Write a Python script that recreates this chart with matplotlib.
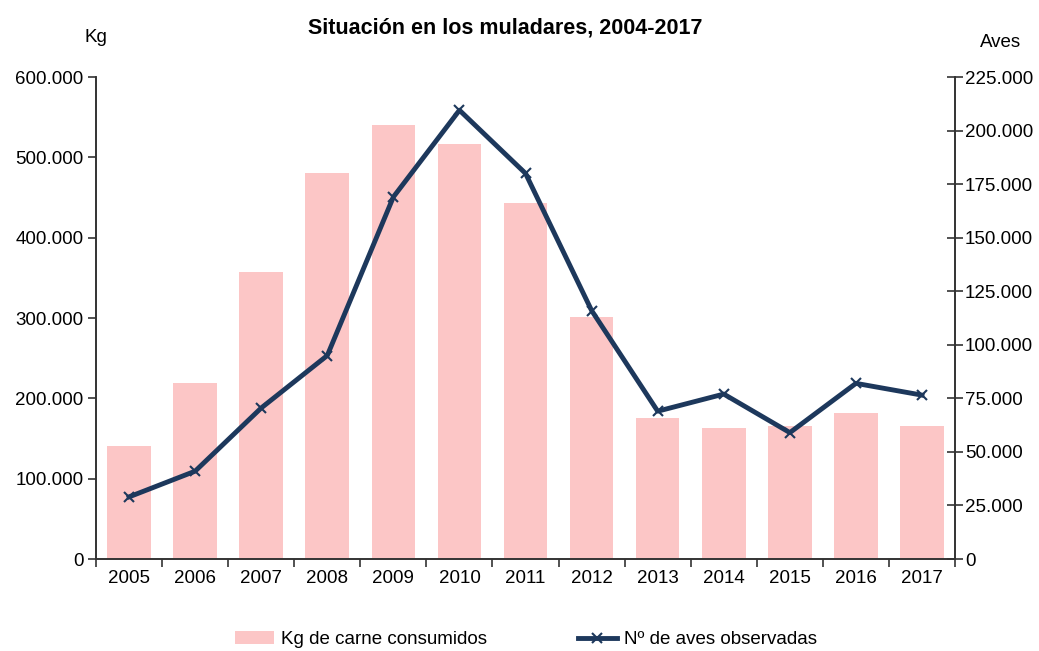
import matplotlib.pyplot as plt
from matplotlib.ticker import FuncFormatter, FixedLocator

plt.rcParams['font.family'] = ['Liberation Sans', 'DejaVu Sans']

years = ['2005', '2006', '2007', '2008', '2009', '2010', '2011',
         '2012', '2013', '2014', '2015', '2016', '2017']
kg_carne = [141000, 219000, 357000, 481000, 540000, 517000, 443000,
            301000, 175000, 163000, 165000, 182000, 165000]
aves = [29000, 41000, 70500, 95000, 169000, 209500, 180000,
        116000, 69000, 77000, 59000, 82000, 76500]

bar_color = '#fcc6c6'
line_color = '#1d385c'
fs = 13.5


def miles(v, pos):
    return f'{int(v):,}'.replace(',', '.')


fig = plt.figure(figsize=(10.39, 6.51), dpi=100)
ax = fig.add_axes([0.0924, 0.1413, 0.8268, 0.7404])
ax2 = ax.twinx()

x = list(range(len(years)))
bars = ax.bar(x, kg_carne, width=0.66, color=bar_color, label='Kg de carne consumidos')
line, = ax2.plot(x, aves, color=line_color, linewidth=3.5, marker='x',
                 markersize=7, markeredgewidth=1.5, label='Nº de aves observadas')

ax.set_xlim(-0.5, len(years) - 0.5)
ax.set_ylim(0, 600000)
ax2.set_ylim(0, 225000)
ax.set_yticks(range(0, 600001, 100000))
ax2.set_yticks(range(0, 225001, 25000))
ax.yaxis.set_major_formatter(FuncFormatter(miles))
ax2.yaxis.set_major_formatter(FuncFormatter(miles))

ax.set_xticks(x)
ax.set_xticklabels(years)
ax.xaxis.set_minor_locator(FixedLocator([i + 0.5 for i in range(-1, len(years))]))
ax.tick_params(axis='x', which='major', length=0, pad=8, labelsize=fs)
ax.tick_params(axis='x', which='minor', length=6, direction='out', width=1.2, color='#333333')
ax.tick_params(axis='y', length=6, direction='out', width=1.2, color='#333333', labelsize=fs, pad=3)
ax2.tick_params(axis='y', length=12, direction='inout', width=1.2, color='#333333', labelsize=fs, pad=1)

for a in (ax, ax2):
    a.spines['top'].set_visible(False)
    for s in ('left', 'right', 'bottom'):
        a.spines[s].set_color('#333333')
        a.spines[s].set_linewidth(1.2)

fig.text(0.486, 0.957, 'Situación en los muladares, 2004-2017', ha='center', va='center',
         fontsize=15.5, fontweight='bold')
fig.text(0.092, 0.942, 'Kg', ha='center', va='center', fontsize=fs)
fig.text(0.963, 0.935, 'Aves', ha='center', va='center', fontsize=fs)

fig.legend(handles=[bars, line], loc='center', bbox_to_anchor=(0.506, 0.017), ncol=2,
           frameon=False, fontsize=fs, columnspacing=4.85, handlelength=2.1,
           handletextpad=0.35)

fig.savefig('out.png', dpi=100)
